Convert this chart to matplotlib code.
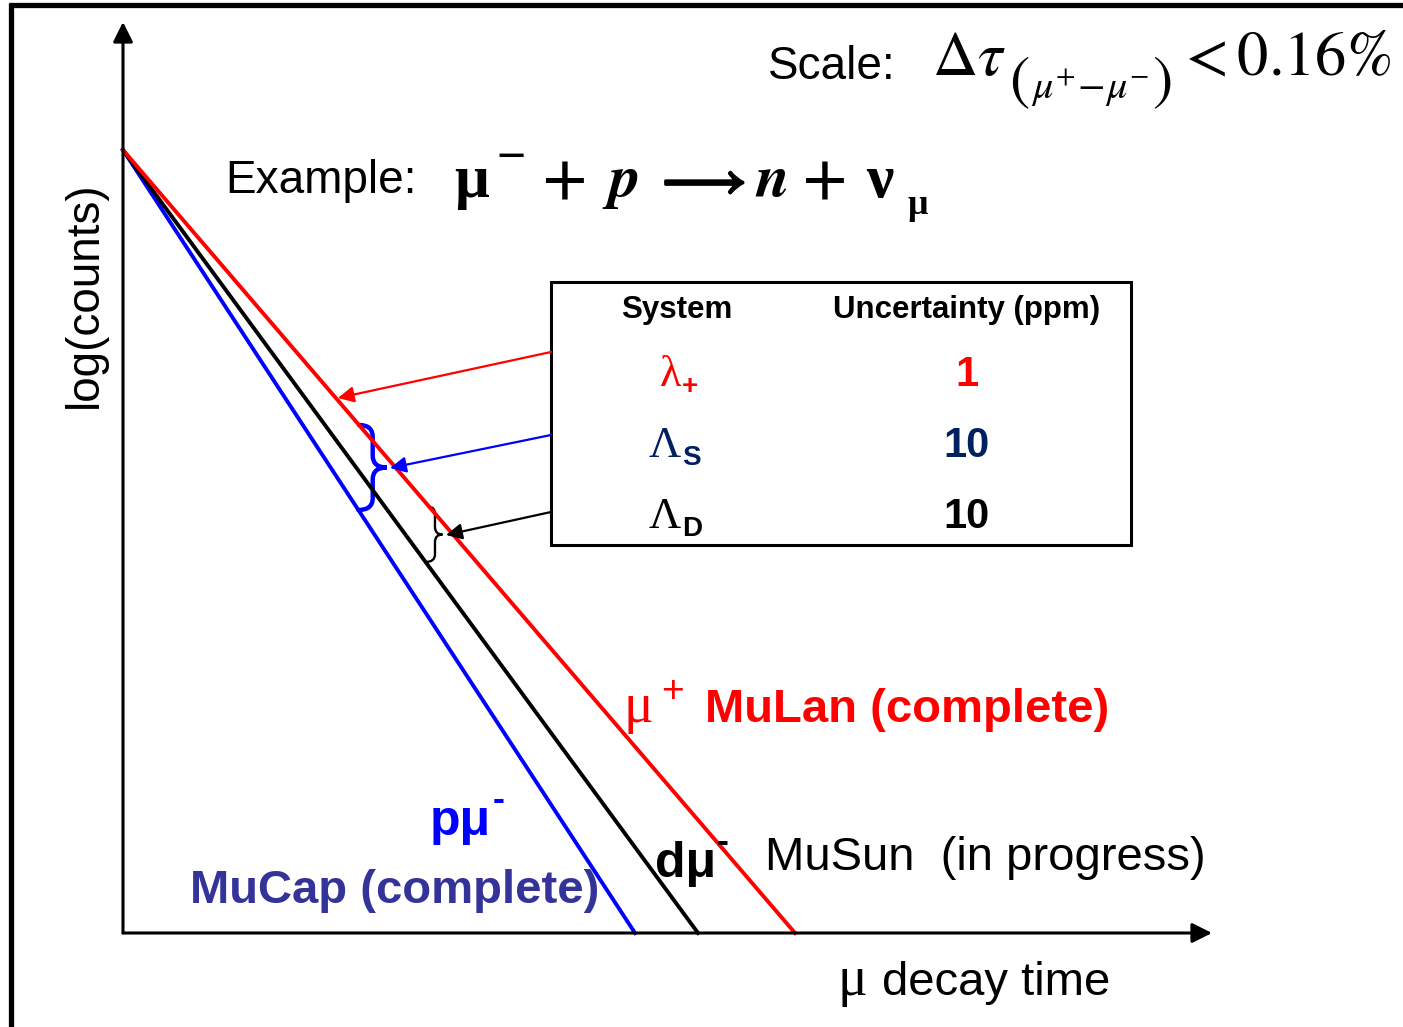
import matplotlib
matplotlib.use('Agg')
import matplotlib.pyplot as plt
import matplotlib.patheffects as pe
from matplotlib.path import Path
from matplotlib.patches import PathPatch, Rectangle

plt.rcParams['mathtext.fontset'] = 'stix'
SANS = 'Liberation Sans'
SERIF = 'Liberation Serif'
STIX = 'STIXGeneral'

# schematic decay curves (pixel space of the slide)
origin = (123, 933)          # where the two axes meet
start_y = 150                # all curves start here on the log(counts) axis
y_tip, x_tip = 22, 1212      # axis arrow tips
curve_names = ['MuCap', 'MuSun', 'MuLan']
curve_end_x = [635, 698, 795]
curve_colors = ['#0000ff', '#000000', '#ff0000']

# table of uncertainties
systems = ['\u03bb', '\u039b', '\u039b']
system_subs = ['+', 'S', 'D']
uncertainty = ['1', '10', '10']
row_colors = ['#ff0000', '#002060', '#000000']
row_baselines = [386, 457, 528]


def x_on(end_x, y):
    return origin[0] + (y - start_y) / (origin[1] - start_y) * (end_x - origin[0])


def brace(ax, top, bot, width, color, lw):
    ym = (top[1] + bot[1]) / 2
    xm = (top[0] + bot[0]) / 2
    xh = xm + width / 2
    xc = xm + width
    q = (bot[1] - top[1]) * 0.14
    verts = [top, (xh, top[1]), (xh, top[1] + q), (xh, ym - q), (xh, ym), (xc, ym),
             (xh, ym), (xh, ym + q), (xh, bot[1] - q), (xh, bot[1]), bot]
    codes = [Path.MOVETO, Path.CURVE3, Path.CURVE3, Path.LINETO, Path.CURVE3, Path.CURVE3,
             Path.CURVE3, Path.CURVE3, Path.LINETO, Path.CURVE3, Path.CURVE3]
    ax.add_patch(PathPatch(Path(verts, codes), fill=False, edgecolor=color, lw=lw,
                           capstyle='round'))


fig = plt.figure(figsize=(14.03, 10.27), dpi=100)
ax = fig.add_axes([0, 0, 1, 1])
ax.set_xlim(0, 1403)
ax.set_ylim(1027, 0)
ax.axis('off')

# slide frame
ax.plot([9, 1403], [5, 5], color='black', lw=3.8, solid_capstyle='butt')
ax.plot([11, 11], [3, 1027], color='black', lw=3.8, solid_capstyle='butt')

# axes with arrows
arrow_kw = dict(arrowstyle='-|>', color='black', lw=2.2, mutation_scale=30,
                shrinkA=0, shrinkB=0)
ax.annotate('', xy=(origin[0], y_tip), xytext=origin, arrowprops=arrow_kw)
ax.annotate('', xy=(x_tip, origin[1]), xytext=origin, arrowprops=arrow_kw)

# decay curves
for name, ex, c in zip(curve_names, curve_end_x, curve_colors):
    ax.plot([origin[0], ex], [start_y, origin[1]], color=c, lw=2.8, label=name)

# braces between curves
brace(ax, (x_on(curve_end_x[2], 425), 425), (x_on(curve_end_x[0], 510), 510), 28,
      '#0000ff', 3.2)
brace(ax, (x_on(curve_end_x[2], 507), 507), (x_on(curve_end_x[1], 562), 562), 15,
      'black', 1.7)

# arrows from table to curves
ptr_kw = dict(arrowstyle='-|>', lw=1.6, mutation_scale=24, shrinkA=0, shrinkB=0)
ax.annotate('', xy=(x_on(curve_end_x[2], 398) + 2, 398), xytext=(551, 352),
            arrowprops=dict(color='#ff0000', **ptr_kw))
ax.annotate('', xy=(390, 468), xytext=(551, 435),
            arrowprops=dict(color='#0000ff', **ptr_kw))
ax.annotate('', xy=(446, 535), xytext=(551, 512),
            arrowprops=dict(color='black', **ptr_kw))

# table
ax.add_patch(Rectangle((551, 282), 580, 263, fill=False, edgecolor='black', lw=2.2))
ax.text(677, 318, 'System', family=SANS, weight='bold', fontsize=22.5,
        ha='center', va='baseline')
ax.text(967, 318, 'Uncertainty (ppm)', family=SANS, weight='bold', fontsize=22.5,
        ha='center', va='baseline')
for sym, sub, val, c, yb in zip(systems, system_subs, uncertainty, row_colors, row_baselines):
    ax.text(681, yb, sym, family=SERIF, fontsize=32, color=c, ha='right', va='baseline')
    ax.text(682, yb + 8, sub, family=SANS, weight='bold', fontsize=20, color=c,
            ha='left', va='baseline')
    ax.text(967, yb, val, family=SANS, weight='bold', fontsize=30, color=c,
            ha='center', va='baseline')

# axis labels
ax.text(838, 995, '\u03bc', family=SERIF, fontsize=40, ha='left', va='baseline')
ax.text(882, 995, 'decay time', family=SANS, fontsize=34, ha='left', va='baseline')
ax.text(85, 295, 'log(counts)', family=SANS, fontsize=33, rotation=90,
        ha='center', va='center')

# scale
ax.text(768, 79, 'Scale:', family=SANS, fontsize=33, ha='left', va='baseline')
ax.text(932, 75, r'$\Delta\tau$', fontsize=45, ha='left', va='baseline')
ax.text(1009, 97, '(', family=STIX, fontsize=44, ha='left', va='baseline')
ax.text(1031, 99, r'$\mu^{+}\!-\!\mu^{-}$', fontsize=29, ha='left', va='baseline')
ax.text(1152, 97, ')', family=STIX, fontsize=44, ha='left', va='baseline')
ax.text(1176, 75, r'$<0.16\%$', fontsize=45, ha='left', va='baseline')

# example reaction
ax.text(225, 193, 'Example:', family=SANS, fontsize=33, ha='left', va='baseline')
eq_parts = [('\u03bc', 472, 197, SERIF, 'bold', 'normal', 44),
            ('\u2212', 511, 165, STIX, 'bold', 'normal', 28),
            ('+', 565, 197, STIX, 'bold', 'normal', 44),
            ('p', 625, 197, STIX, 'bold', 'italic', 44),
            ('n', 772, 197, STIX, 'bold', 'italic', 44),
            ('+', 825, 197, STIX, 'bold', 'normal', 44),
            ('\u03bd', 880, 197, SERIF, 'bold', 'normal', 44),
            ('\u03bc', 918, 214, SERIF, 'bold', 'normal', 26)]
for s, x, y, fam, w, st, fs in eq_parts:
    ax.text(x, y, s, family=fam, weight=w, style=st, fontsize=fs,
            ha='center', va='baseline')
ax.text(700, 196, r'$\longrightarrow$', fontsize=38, ha='center', va='baseline',
        path_effects=[pe.withStroke(linewidth=2.2, foreground='black')])

# curve labels
ax.text(624, 722, '\u03bc', family=SERIF, fontsize=40, color='#ff0000',
        ha='left', va='baseline')
ax.text(661, 702, '+', family=SANS, fontsize=28, color='#ff0000',
        ha='left', va='baseline')
ax.text(705, 722, 'MuLan (complete)', family=SANS, weight='bold', fontsize=34,
        color='#ff0000', ha='left', va='baseline')

ax.text(430, 835, 'p\u03bc', family=SANS, weight='bold', fontsize=36, color='#0000ff',
        ha='left', va='baseline')
ax.text(493, 810, '-', family=SANS, weight='bold', fontsize=26, color='#0000ff',
        ha='left', va='baseline')
ax.text(190, 903, 'MuCap (complete)', family=SANS, weight='bold', fontsize=34,
        color='#333399', ha='left', va='baseline')

ax.text(655, 877, 'd\u03bc', family=SANS, weight='bold', fontsize=36, color='black',
        ha='left', va='baseline')
ax.text(717, 852, '-', family=SANS, weight='bold', fontsize=26, color='black',
        ha='left', va='baseline')
ax.text(765, 870, 'MuSun  (in progress)', family=SANS, fontsize=34,
        ha='left', va='baseline')

fig.savefig('out.png', dpi=100)
